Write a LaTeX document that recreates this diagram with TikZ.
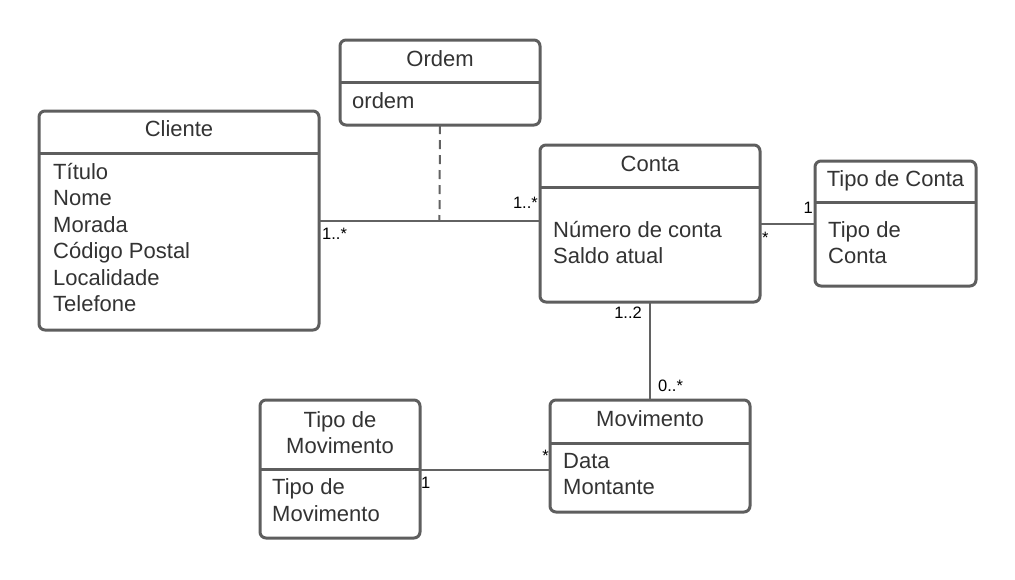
\documentclass[tikz,border=0pt]{standalone}
\usepackage{fontspec}
\setmainfont{Liberation Sans}
\begin{document}
\begin{tikzpicture}[x=1pt,y=-1pt,
  cls/.style={draw=boxgray, line width=3pt, rounded corners=6pt, inner sep=0pt, outer sep=0pt},
  divider/.style={draw=boxgray, line width=3pt},
  conn/.style={draw=linegray, line width=2pt},
  title/.style={text=txtgray, font=\fontsize{22}{26}\selectfont, anchor=base, inner sep=0pt},
  attr/.style={text=txtgray, font=\fontsize{22}{26}\selectfont, anchor=base west, inner sep=0pt},
  mult/.style={text=black, font=\fontsize{16.5}{19}\selectfont, inner sep=0pt}
]
\definecolor{boxgray}{HTML}{5E5E5E}
\definecolor{linegray}{HTML}{626262}
\definecolor{txtgray}{HTML}{333333}
\useasboundingbox (0,0) rectangle (1015,579);
\fill[white] (0,0) rectangle (1015,579);

% Ordem
\node[cls, minimum width=200pt, minimum height=85pt] (ordem) at (440,82.5) {};
\draw[divider] (ordem.west |- 0,82) -- (ordem.east |- 0,82);
\node[title] (ordemT) at (440,66) {Ordem};
\node[attr] (ordemA) at (352,108) {ordem};

% Cliente
\node[cls, minimum width=280pt, minimum height=219pt] (cliente) at (179,220.5) {};
\draw[divider] (cliente.west |- 0,153) -- (cliente.east |- 0,153);
\node[title] (clienteT) at (179,136.5) {Cliente};
\node[attr] (c1) at (53,179) {Título};
\node[attr] (c2) at (53,205.5) {Nome};
\node[attr] (c3) at (53,232) {Morada};
\node[attr] (c4) at (53,258.5) {Código Postal};
\node[attr] (c5) at (53,285) {Localidade};
\node[attr] (c6) at (53,311.5) {Telefone};

% Conta
\node[cls, minimum width=220pt, minimum height=157pt] (conta) at (650,223.5) {};
\draw[divider] (conta.west |- 0,187) -- (conta.east |- 0,187);
\node[title] (contaT) at (650,171) {Conta};
\node[attr] (k1) at (553,237) {Número de conta};
\node[attr] (k2) at (553,263.5) {Saldo atual};

% Tipo de Conta
\node[cls, minimum width=161pt, minimum height=125pt] (tconta) at (895.5,223.5) {};
\draw[divider] (tconta.west |- 0,202) -- (tconta.east |- 0,202);
\node[title] (tcontaT) at (895.5,186) {Tipo de Conta};
\node[attr] (t1) at (828,237) {Tipo de};
\node[attr] (t2) at (828,263.5) {Conta};

% Movimento
\node[cls, minimum width=200pt, minimum height=112pt] (mov) at (650,456) {};
\draw[divider] (mov.west |- 0,443) -- (mov.east |- 0,443);
\node[title] (movT) at (650,426) {Movimento};
\node[attr] (m1) at (563,468) {Data};
\node[attr] (m2) at (563,494.5) {Montante};

% Tipo de Movimento
\node[cls, minimum width=160pt, minimum height=138pt] (tmov) at (340,469) {};
\draw[divider] (tmov.west |- 0,469) -- (tmov.east |- 0,469);
\node[title] (tmovT1) at (340,427) {Tipo de};
\node[title] (tmovT2) at (340,453) {Movimento};
\node[attr] (tm1) at (272,494.5) {Tipo de};
\node[attr] (tm2) at (272,521) {Movimento};

% Connectors
\draw[conn] (cliente.east |- 0,221) -- coordinate[pos=0.545] (assoc) (conta.west |- 0,221);
\draw[conn, dash pattern=on 9pt off 6pt] (ordem.south) -- (assoc);
\draw[conn] (conta.east |- 0,224) -- (tconta.west |- 0,224);
\draw[conn] (conta.south) -- (mov.north);
\draw[conn] (tmov.east |- 0,470) -- (mov.west |- 0,470);

% Multiplicities
\node[mult, anchor=base west] (l1) at (322,239) {1..*};
\node[mult, anchor=base east] (l2) at (538,208) {1..*};
\node[mult, anchor=base west] (l3) at (762,243) {*};
\node[mult, anchor=base east] (l4) at (813,213) {1};
\node[mult, anchor=base east] (l5) at (642,318) {1..2};
\node[mult, anchor=base west] (l6) at (658,391) {0..*};
\node[mult, anchor=base west] (l7) at (421,488) {1};
\node[mult, anchor=base east] (l8) at (549,461) {*};
\end{tikzpicture}
\end{document}
